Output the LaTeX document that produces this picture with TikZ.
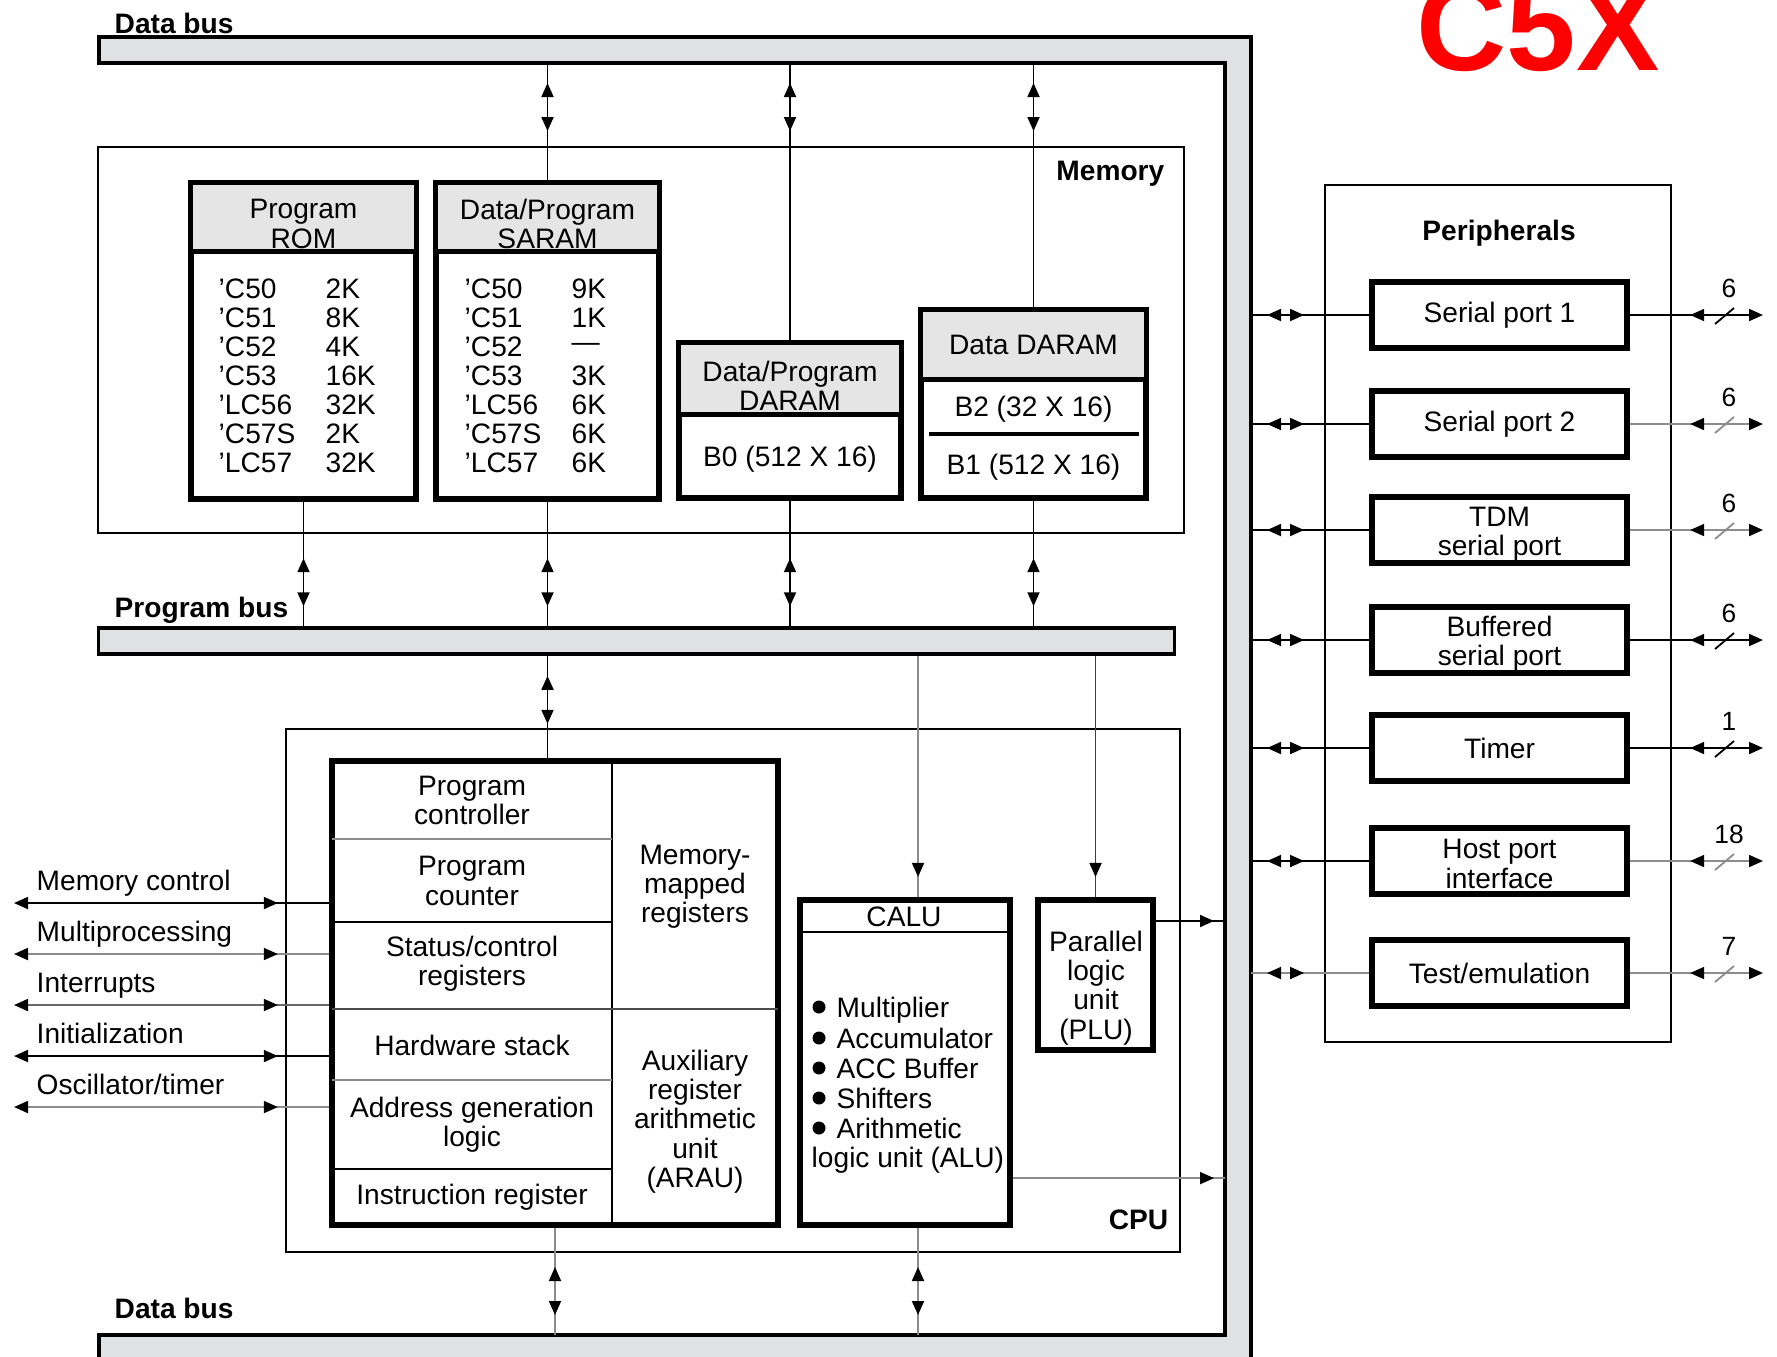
\documentclass[tikz,border=0pt]{standalone}
\usepackage{fontspec}
\setmainfont{Liberation Sans}
\usetikzlibrary{arrows.meta, decorations.markings}
\definecolor{busgrey}{RGB}{224,225,227}
\definecolor{hdrgrey}{RGB}{229,229,229}
\definecolor{linegrey}{RGB}{140,140,140}
\definecolor{c5xred}{RGB}{255,0,0}

\begin{document}
\begin{tikzpicture}[x=0.01cm, y=-0.01cm,
    font=\fontsize{8}{8.3}\selectfont,
    >={Triangle[length=0.14cm, width=0.12cm, color=black]},
    every node/.style={inner sep=0pt, align=center},
    container/.style={draw, line width=0.02cm},
    busbar/.style={draw, line width=0.035cm, fill=busgrey},
    unitbox/.style={draw, line width=0.06cm, fill=white},
    headbox/.style={draw, line width=0.05cm, fill=hdrgrey, anchor=north},
    blocktitle/.style={font=\fontsize{8}{8.3}\selectfont\bfseries},
    wire/.style={line width=0.018cm},
    busarrow/.style={wire, postaction={decorate}, decoration={markings,
        mark=at position 0.2cm with {\arrowreversed{>}},
        mark=at position 0.68cm with {\arrow{>}}}},
    portarrow/.style={wire, postaction={decorate}, decoration={markings,
        mark=at position 0.16cm with {\arrowreversed{>}},
        mark=at position 0.53cm with {\arrow{>}}}},
    extarrow/.style={wire, ->, postaction={decorate}, decoration={markings,
        mark=at position 0.6cm with {\arrowreversed{>}}}},
    sigarrow/.style={wire, ->, postaction={decorate}, decoration={markings,
        mark=at position 0.51cm with {\arrowreversed{>}}}},
    downarrow/.style={wire, postaction={decorate}, decoration={markings,
        mark=at position -0.2cm with {\arrow{>}}}},
    outarrow/.style={wire, postaction={decorate}, decoration={markings,
        mark=at position -0.11cm with {\arrow{>}}}}
  ]
  \useasboundingbox (0,0) rectangle (1777,1356);
  \clip (0,0) rectangle (1777,1356);

  % containers
  \node[container, minimum width=10.86cm, minimum height=3.86cm] (memory) at (641,340) {};
  \node[container, minimum width=8.94cm, minimum height=5.23cm] (cpu) at (733,990.5) {};
  \node[container, minimum width=3.46cm, minimum height=8.57cm] (periph) at (1498,613.5) {};

  % buses
  \draw[busbar] (99,37) -- (1251,37) -- (1251,1400) -- (99,1400) -- (99,1335)
    -- (1225,1335) -- (1225,63) -- (99,63) -- cycle;
  \coordinate (dtop) at (0,63);
  \coordinate (dbot) at (0,1335);
  \coordinate (dright) at (1225,0);
  \coordinate (dout) at (1251,0);
  \node[busbar, minimum width=10.75cm, minimum height=0.26cm] (pbus) at (636.5,641) {};

  \node[blocktitle, anchor=base west] (dbuslbl) at (114,33) {Data bus};
  \node[blocktitle, anchor=base west] (pbuslbl) at (114,617) {Program bus};
  \node[blocktitle, anchor=base west] (dbuslbl2) at (114,1318) {Data bus};
  \node[blocktitle, anchor=base east] (memlbl) at (1165,180) {Memory};
  \node[blocktitle, anchor=base east] (cpulbl) at (1169,1229) {CPU};
  \node[blocktitle, anchor=base] (periphlbl) at (1499,240) {Peripherals};
  \node[anchor=base west, text=c5xred, font=\fontsize{35.5}{36}\selectfont\bfseries] (c5x) at (1416,70) {C5X};

  % memory blocks
  \node[unitbox, minimum width=2.25cm, minimum height=3.16cm] (rom) at (303.5,341) {};
  \node[headbox, minimum width=2.25cm, minimum height=0.69cm] (romhead) at (rom.north) {};
  \node (romtitle) at (303.5,224) {Program\\ROM};
  \node[unitbox, minimum width=2.23cm, minimum height=3.16cm] (saram) at (547.5,341) {};
  \node[headbox, minimum width=2.23cm, minimum height=0.69cm] (saramhead) at (saram.north) {};
  \node (saramtitle) at (547.5,224) {Data/Program\\SARAM};
  \foreach \dev/\rsz/\ssz [count=\i] in {’C50/2K/9K, ’C51/8K/1K, ’C52/4K/—, ’C53/16K/3K,
      ’LC56/32K/6K, ’C57S/2K/6K, ’LC57/32K/6K} {
    \node[anchor=west] (romdev\i) at (218,{289+29*(\i-1)}) {\dev};
    \node[anchor=west] (romsz\i) at (325,{289+29*(\i-1)}) {\rsz};
    \node[anchor=west] (samdev\i) at (464,{289+29*(\i-1)}) {\dev};
    \node[anchor=west] (samsz\i) at (571,{289+29*(\i-1)}) {\ssz};
  }
  \node[unitbox, minimum width=2.22cm, minimum height=1.55cm] (dpdaram) at (790,420.5) {};
  \node[headbox, minimum width=2.22cm, minimum height=0.72cm] (dpdaramhead) at (dpdaram.north) {};
  \node (dpdaramtitle) at (790,386) {Data/Program\\DARAM};
  \node (bzero) at (790,459) {B0 (512 X 16)};
  \node[unitbox, minimum width=2.25cm, minimum height=1.88cm] (ddaram) at (1033.5,404) {};
  \node[headbox, minimum width=2.25cm, minimum height=0.70cm] (ddaramhead) at (ddaram.north) {Data DARAM};
  \node (btwo) at (1033.5,409) {B2 (32 X 16)};
  \draw[line width=0.04cm] (929,434) -- (1139,434);
  \node (bone) at (1033.5,467) {B1 (512 X 16)};

  % CPU core
  \node[unitbox, minimum width=4.46cm, minimum height=4.64cm] (core) at (555,993) {};
  \draw[wire] (612,761) -- (612,1225);
  \draw[wire, linegrey] (332,839) -- (612,839);
  \draw[wire] (332,922) -- (612,922);
  \draw[wire, black!70] (332,1009) -- (778,1009);
  \draw[wire, linegrey] (332,1080) -- (612,1080);
  \draw[wire] (332,1169) -- (612,1169);
  \node (pctrl) at (472,800.5) {Program\\controller};
  \node (pcnt) at (472,881) {Program\\counter};
  \node (stat) at (472,964) {Status/control\\registers};
  \node (hstack) at (472,1045) {Hardware stack};
  \node (agen) at (472,1124.5) {Address generation\\logic};
  \node (ireg) at (472,1197) {Instruction register};
  \node (mmreg) at (695,887) {Memory-\\mapped\\registers};
  \node (arau) at (695,1121.5) {Auxiliary\\register\\arithmetic\\unit\\(ARAU)};

  % CALU and PLU
  \node[unitbox, minimum width=2.10cm, minimum height=3.25cm] (calu) at (905,1062.5) {};
  \draw[wire] (800,932) -- (1010,932);
  \node[anchor=base] (calulbl) at (904,926) {CALU};
  \foreach \item/\yy in {Multiplier/1007, Accumulator/1038, ACC Buffer/1068, Shifters/1098, Arithmetic/1128} {
    \fill (819,\yy) circle (0.065cm);
    \node[anchor=base west] (\item) at (836,{\yy+10}) {\item};
  }
  \node[anchor=base west] (alu) at (811,1167) {logic unit (ALU)};
  \node[unitbox, minimum width=1.15cm, minimum height=1.50cm] (plu) at (1095.5,975) {};
  \node (plutext) at (1096,988) {Parallel\\logic\\unit\\(PLU)};

  % memory <-> buses
  \foreach \m in {saram, dpdaram, ddaram}
    \draw[busarrow] (\m.north |- dtop) -- (\m.north);
  \foreach \m in {rom, saram, dpdaram, ddaram}
    \draw[busarrow] (\m.south |- pbus.north) -- (\m.south);

  % CPU <-> buses
  \coordinate (calux) at ([xshift=0.13cm]calu.north);
  \draw[busarrow] (pbus.south -| saram.south) -- (core.north -| saram.south);
  \draw[downarrow, linegrey] (calux |- pbus.south) -- (calux);
  \draw[downarrow, black!75] (plu.north |- pbus.south) -- (plu.north);
  \draw[busarrow, linegrey] (core.south |- dbot) -- (core.south);
  \draw[busarrow, linegrey] (calux |- dbot) -- (calux |- calu.south);
  \coordinate (pluout) at ([yshift=-0.24cm]plu.north east);
  \coordinate (caluout) at ([yshift=0.5cm]calu.south east);
  \draw[outarrow] (pluout) -- (pluout -| dright);
  \draw[outarrow, linegrey] (caluout) -- (caluout -| dright);

  % external CPU signals
  \foreach \sig/\yy/\col [count=\i] in {Memory control/903/black, Multiprocessing/954/linegrey,
      Interrupts/1005/black!60, Initialization/1056/black, {Oscillator/timer}/1107/linegrey} {
    \coordinate (sig\i) at (14,\yy);
    \draw[sigarrow, \col] (core.west |- sig\i) -- (sig\i);
    \node[anchor=base west] (siglbl\i) at ([xshift=0.22cm, yshift=0.13cm]sig\i) {\sig};
  }

  % peripherals
  \foreach \nm/\txt/\yy/\dy/\bits/\lc/\rc in {sp1/Serial port 1/315/0/6/black/black,
      sp2/Serial port 2/424/0/6/black/linegrey, tdm/TDM\\serial port/530/4/6/black/linegrey,
      bsp/Buffered\\serial port/640/4/6/black/black, tim/Timer/748/0/1/black/black,
      hpi/Host port\\interface/861/3/18/black/linegrey, tst/{Test/emulation}/973/0/7/linegrey/linegrey} {
    \node[unitbox, minimum width=2.55cm, minimum height=0.66cm] (\nm) at (1499.5,\yy) {};
    \node (\nm-t) at (1499.5,{\yy+\dy}) {\txt};
    \coordinate (\nm-out) at (1763,\yy);
    \draw[portarrow, \lc] (dout |- \nm.west) -- (\nm.west);
    \draw[extarrow, \rc] (\nm.east) -- (\nm-out);
    \draw[wire, \rc] ([xshift=-0.48cm, yshift=-0.09cm]\nm-out) -- ([xshift=-0.29cm, yshift=0.07cm]\nm-out);
    \node[font=\fontsize{7.5}{8}\selectfont] (\nm-n) at ([xshift=-0.34cm, yshift=0.27cm]\nm-out) {\bits};
  }
\end{tikzpicture}
\end{document}
